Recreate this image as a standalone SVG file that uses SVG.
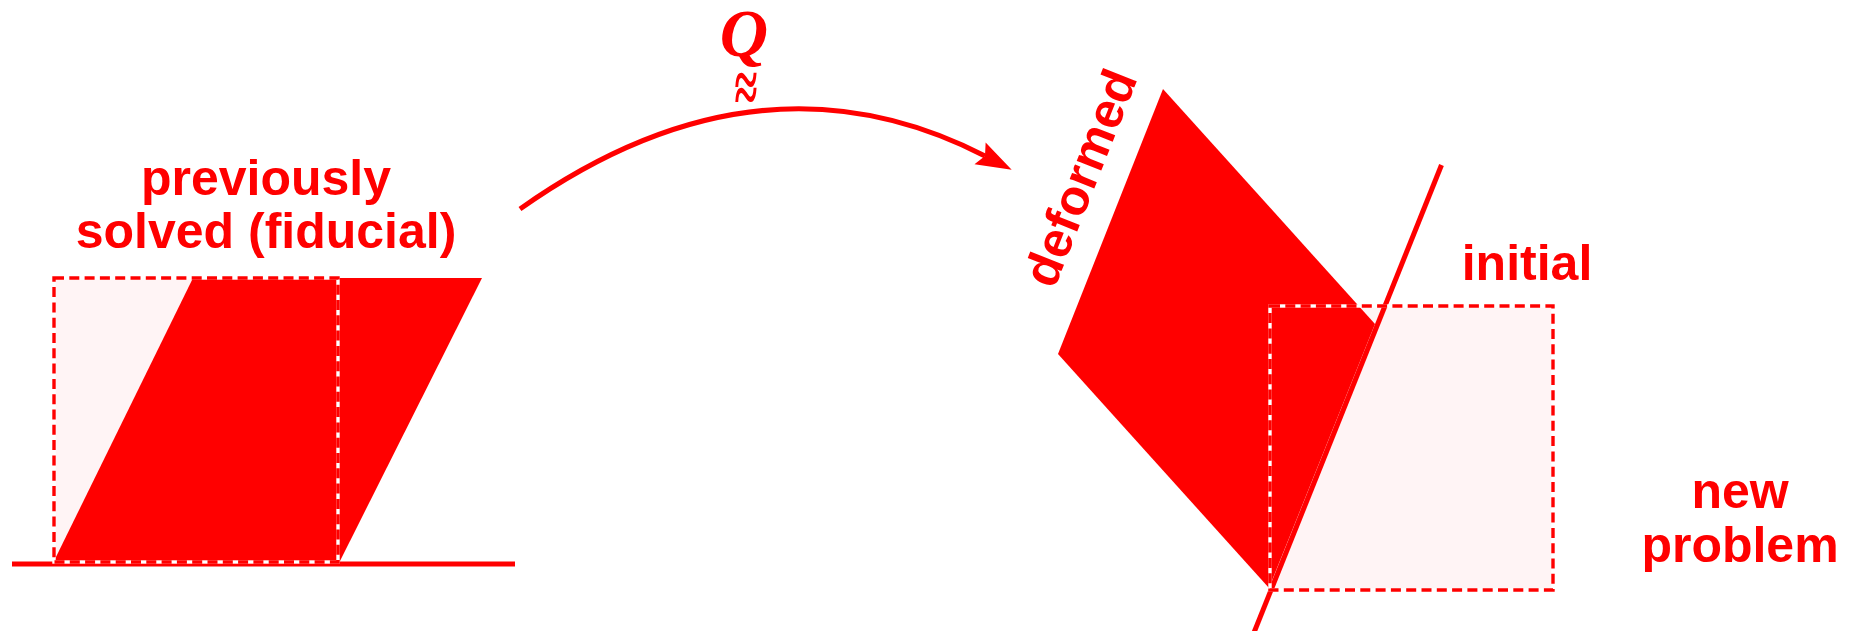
<svg xmlns="http://www.w3.org/2000/svg" width="1856" height="631" viewBox="0 0 1856 631">
<style>
.lbl{font-family:"Liberation Sans",Arial,sans-serif;font-weight:bold;font-size:50px;fill:#ff0000;text-anchor:middle}
.pale{fill:#fff4f5;stroke:none}
.solid{fill:#ff0000;stroke:none}
.edgew{fill:none;stroke:#ffffff;stroke-width:3.4}
.edger{fill:none;stroke:#ff0000;stroke-width:3.4;stroke-dasharray:10 5.3}
.ln{stroke:#ff0000;stroke-width:5;fill:none}
.math{font-family:"Liberation Serif","Times New Roman",serif;font-style:italic;font-weight:bold;fill:#ff0000;text-anchor:middle}
.tl{font-family:"Liberation Serif","Times New Roman",serif;font-weight:bold;fill:#ff0000;text-anchor:middle;font-size:42px}
</style>
<defs>
<marker id="head" markerUnits="userSpaceOnUse" markerWidth="40" markerHeight="30" viewBox="-2 -13 36 26" refX="5" refY="0" orient="auto">
<path d="M0,-11 L32,0 L0,11 L5,0 Z" fill="#ff0000"/>
</marker>
</defs>
<g id="fiducial">
<rect class="pale" x="54" y="278" width="284" height="284"/>
<polygon class="solid" points="193,278 482,278 340,561 54,561"/>
<line class="ln" x1="12" y1="564" x2="515" y2="564"/>
<rect class="edgew" x="54" y="278" width="284" height="284"/>
<rect class="edger" x="54" y="278" width="284" height="284"/>
<text class="lbl" x="266" y="195">previously</text>
<text class="lbl" x="266" y="248">solved (fiducial)</text>
</g>
<g id="connectors">
<path class="ln" d="M520,209 Q759,40 985,156" marker-end="url(#head)"/>
</g>
<g id="label-Q">
<text class="math" x="744" y="56" font-size="67">Q</text>
<text class="tl" transform="translate(746,105) scale(1,1.8)">~</text>
<text class="tl" transform="translate(746,120) scale(1,1.8)">~</text>
</g>
<g id="new-problem">
<rect class="pale" x="1270" y="306" width="283" height="284"/>
<polygon class="solid" points="1163,89 1375,324 1269,588 1058,354"/>
<line class="ln" x1="1441.5" y1="165" x2="1253" y2="635"/>
<rect class="edgew" x="1270" y="306" width="283" height="284"/>
<rect class="edger" x="1270" y="306" width="283" height="284"/>
<text class="lbl" transform="translate(1096,184) rotate(-68.4)" x="0" y="0">deformed</text>
<text class="lbl" x="1527" y="280">initial</text>
<text class="lbl" x="1740" y="508">new</text>
<text class="lbl" x="1740" y="562">problem</text>
</g>
</svg>
